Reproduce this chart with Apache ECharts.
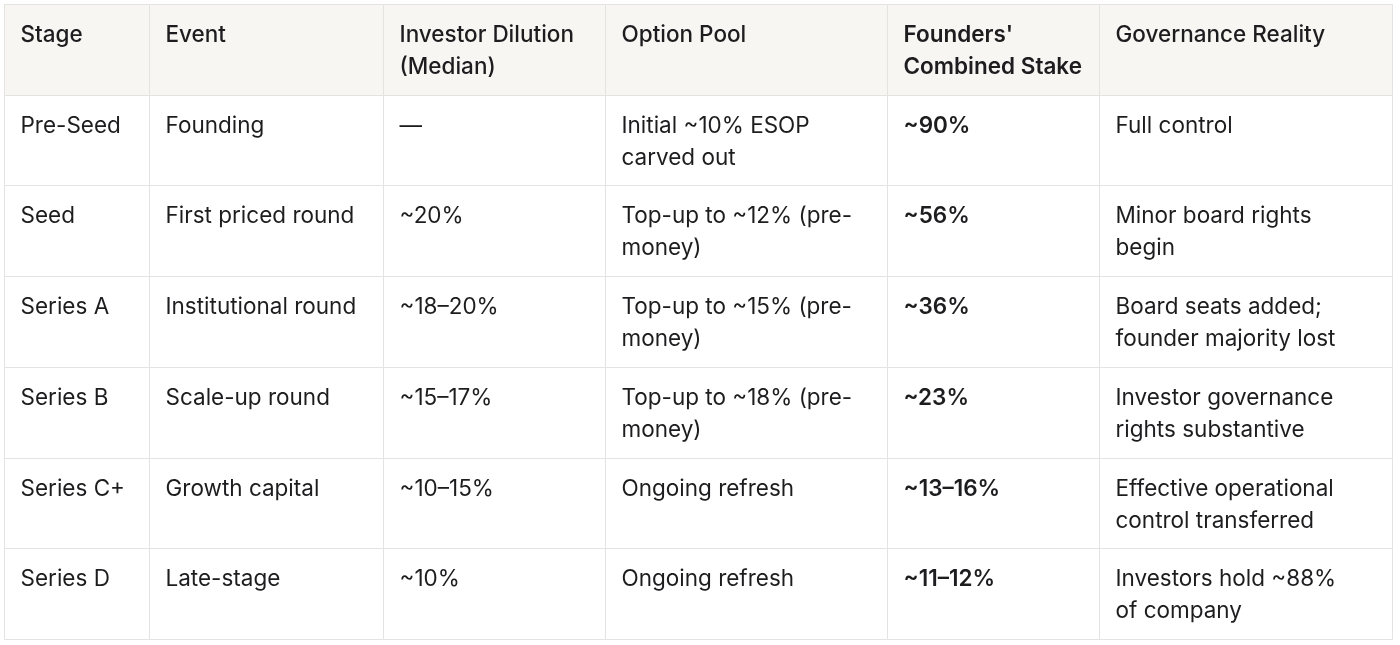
<!DOCTYPE html>
<html>
<head>
<meta charset="utf-8">
<script src="https://cdn.jsdelivr.net/npm/echarts@6/dist/echarts.min.js"></script>
<style>
  html, body { margin: 0; padding: 0; background: #fff; }
  #main { width: 1400px; height: 645px; }
</style>
</head>
<body>
<div id="main"></div>
<script>
// table content, one array per column
var headers = ['Stage', 'Event', 'Investor Dilution\n(Median)', 'Option Pool', "Founders'\nCombined Stake", 'Governance Reality'];
var stages = ['Pre-Seed', 'Seed', 'Series A', 'Series B', 'Series C+', 'Series D'];
var events = ['Founding', 'First priced round', 'Institutional round', 'Scale-up round', 'Growth capital', 'Late-stage'];
var dilution = ['—', '~20%', '~18–20%', '~15–17%', '~10–15%', '~10%'];
var optionPool = [
    'Initial ~10% ESOP\ncarved out',
    'Top-up to ~12% (pre-\nmoney)',
    'Top-up to ~15% (pre-\nmoney)',
    'Top-up to ~18% (pre-\nmoney)',
    'Ongoing refresh',
    'Ongoing refresh'
];
var founderStake = ['~90%', '~56%', '~36%', '~23%', '~13–16%', '~11–12%'];
var governance = [
    'Full control',
    'Minor board rights\nbegin',
    'Board seats added;\nfounder majority lost',
    'Investor governance\nrights substantive',
    'Effective operational\ncontrol transferred',
    'Investors hold ~88%\nof company'
];

var columns = [stages, events, dilution, optionPool, founderStake, governance];

// layout: column widths in px
var colWidths = [145, 234, 222, 282, 212, 293];
var edges = [0];
colWidths.forEach(function (w, i) { edges.push(edges[i] + w); });

var rowNames = ['header'].concat(stages);

var cells = [];
for (var r = 0; r < rowNames.length; r++) {
    for (var c = 0; c < columns.length; c++) {
        cells.push([c, r]);
    }
}

var myChart = echarts.init(document.getElementById('main'));

var option = {
    animation: false,
    grid: { left: 4, right: 8, top: 4, bottom: 6 },
    xAxis: { type: 'value', min: 0, max: edges[edges.length - 1], show: false },
    yAxis: { type: 'category', data: rowNames, inverse: true, show: false },
    series: [{
        type: 'custom',
        data: cells,
        renderItem: function (params, api) {
            var c = api.value(0), r = api.value(1);
            var a = api.coord([edges[c], r]);
            var b = api.coord([edges[c + 1], r]);
            var h = api.size([0, 1])[1];
            var x0 = Math.round(a[0]) + 0.5, x1 = Math.round(b[0]) + 0.5;
            var y0 = Math.round(a[1] - h / 2) + 0.5, y1 = Math.round(a[1] + h / 2) + 0.5;
            var isHead = r === 0;
            var txt = isHead ? headers[c] : columns[c][r - 1];
            var weight = (c === 4) ? 600 : (isHead ? 500 : 400);
            return {
                type: 'group',
                children: [{
                    type: 'rect',
                    shape: { x: x0, y: y0, width: x1 - x0, height: y1 - y0 },
                    style: { fill: isHead ? '#f7f6f3' : '#ffffff', stroke: '#e3e3e1', lineWidth: 1 }
                }, {
                    type: 'text',
                    x: x0 + 16,
                    y: y0 + 14.5,
                    style: {
                        text: txt,
                        fill: '#1d1d1f',
                        fontFamily: 'Inter',
                        fontSize: 22.5,
                        fontWeight: weight,
                        lineHeight: 32,
                        verticalAlign: 'top',
                        align: 'left'
                    }
                }]
            };
        }
    }]
};

myChart.setOption(option);
</script>
</body>
</html>
